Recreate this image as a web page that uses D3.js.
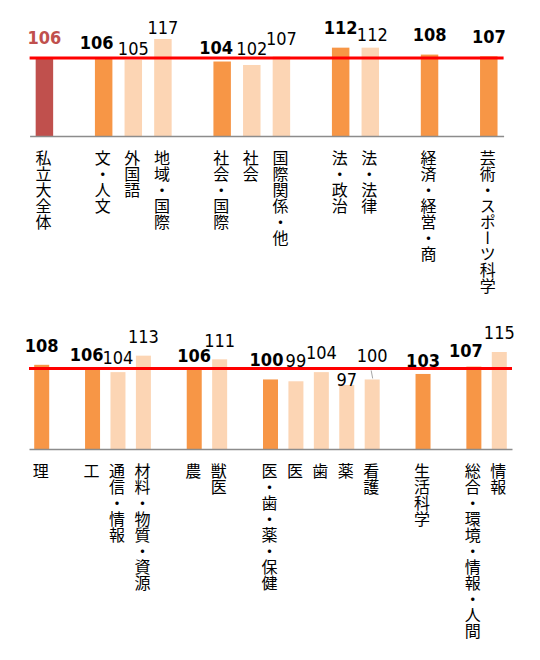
<!DOCTYPE html>
<html><head><meta charset="utf-8">
<script src="https://cdn.jsdelivr.net/npm/d3@7"></script>
<style>
html,body{margin:0;padding:0;background:#fff;}
svg{display:block;}
.cat text{font-family:"Noto Sans CJK JP","Noto Sans CJK SC",sans-serif;font-size:16px;fill:#000;writing-mode:vertical-rl;text-orientation:upright;}
.val{font-family:"DejaVu Sans Condensed","DejaVu Sans",sans-serif;font-stretch:condensed;font-size:18px;}
</style></head><body>
<svg id="chart" width="540" height="660"></svg>
<script>
// ---------- data ----------
const overallValue = 106;

const topCategories = ["私立大全体", null, "文・人文", "外国語", "地域・国際", null, "社会・国際", "社会", "国際関係・他", null, "法・政治", "法・法律", null, "経済・経営・商", null, "芸術・スポーツ科学"];
const topValues     = [106, null, 106, 105, 117, null, 104, 102, 107, null, 112, 112, null, 108, null, 107];
const topLevels     = ["total", null, "major", "minor", "minor", null, "major", "minor", "minor", null, "major", "minor", null, "major", null, "major"];

const bottomCategories = ["理", null, "工", "通信・情報", "材料・物質・資源", null, "農", "獣医", null, "医・歯・薬・保健", "医", "歯", "薬", "看護", null, "生活科学", null, "総合・環境・情報・人間", "情報"];
const bottomValues     = [108, null, 106, 104, 113, null, 106, 111, null, 100, 99, 104, 97, 100, null, 103, null, 107, 115];
const bottomLevels     = ["major", null, "major", "minor", "minor", null, "major", "minor", null, "major", "minor", "minor", "minor", "minor", null, "major", null, "major", "minor"];

// ---------- layout (manual label placement, as in the original) ----------
const topLabelLift    = [14, 0, 9, 5, 5, 0, 8, 10, 11, 0, 14, 7, 0, 14, 0, 13];
const topLabelShift   = [0, 0, -7, 0, 0, 0, -6, 0, 0, 0, 0, 2, 0, 0, 0, 0];
const bottomLabelLift  = [13, 0, 7, 8, 13, 0, 6, 12, 0, 13, 14, 13, -1, 17, 0, 7, 0, 10, 13];
const bottomLabelShift = [0, 0, -6, 0, 0, 0, 0, 0, 0, -4, 0, 0, 0, 0, 0, 0, 0, -8, 0];
const leaderSlots = {bottom: [13]};

const colors = {total: "#C0504D", major: "#F79646", minor: "#FCD5B4"};
const svg = d3.select("#chart");

const panels = [
  {key: "top", cats: topCategories, vals: topValues, levels: topLevels, lift: topLabelLift, shift: topLabelShift,
   xRange: [29.6, 503.6], domain: [61, 117], yRange: [136, 39]},
  {key: "bottom", cats: bottomCategories, vals: bottomValues, levels: bottomLevels, lift: bottomLabelLift, shift: bottomLabelShift,
   xRange: [29, 512], domain: [62, 115], yRange: [449, 352]}
];

panels.forEach(p => {
  const idx = d3.range(p.cats.length);
  const x = d3.scaleBand().domain(idx).range(p.xRange).paddingInner(0.41).paddingOuter(0.205);
  const y = d3.scaleLinear().domain(p.domain).range(p.yRange);
  const base = p.yRange[0];
  const g = svg.append("g");
  const items = idx.filter(i => p.vals[i] != null);

  // bars
  g.selectAll("rect.bar").data(items).join("rect")
    .attr("class", "bar")
    .attr("x", i => x(i))
    .attr("width", x.bandwidth())
    .attr("y", i => y(p.vals[i]))
    .attr("height", i => base - y(p.vals[i]))
    .attr("fill", i => colors[p.levels[i]]);

  // axis with vertical category labels
  const axis = d3.axisBottom(x).tickSizeInner(0).tickSizeOuter(0)
    .tickValues(items).tickFormat(i => p.cats[i]);
  const ag = g.append("g").attr("class", "cat").attr("transform", `translate(0,${base})`).call(axis);
  ag.select(".domain").attr("stroke", "#8C8C8C").attr("stroke-width", 1.3);
  ag.selectAll(".tick text").attr("y", 14).attr("dy", null).attr("x", -1)
    .attr("text-anchor", "start").attr("fill", "#000");

  // overall reference line
  g.append("line")
    .attr("x1", p.xRange[0]).attr("x2", p.xRange[1])
    .attr("y1", y(overallValue)).attr("y2", y(overallValue))
    .attr("stroke", "#FF0000").attr("stroke-width", 3);

  // leader lines
  (leaderSlots[p.key] || []).forEach(i => {
    const cx = x(i) + x.bandwidth() / 2;
    const top = y(p.vals[i]);
    g.append("line")
      .attr("x1", cx + p.shift[i] - 1).attr("y1", top - p.lift[i] + 8)
      .attr("x2", cx + p.shift[i] + 0.5).attr("y2", top - 1)
      .attr("stroke", "#A6A6A6").attr("stroke-width", 1);
  });

  // value labels
  g.selectAll("text.val").data(items).join("text")
    .attr("class", "val")
    .attr("x", i => x(i) + x.bandwidth() / 2 + p.shift[i])
    .attr("y", i => y(p.vals[i]) - p.lift[i])
    .attr("text-anchor", "middle")
    .attr("font-weight", i => p.levels[i] === "minor" ? "normal" : "bold")
    .attr("fill", i => p.levels[i] === "total" ? colors.total : "#000")
    .text(i => p.vals[i]);
});
</script></body></html>
